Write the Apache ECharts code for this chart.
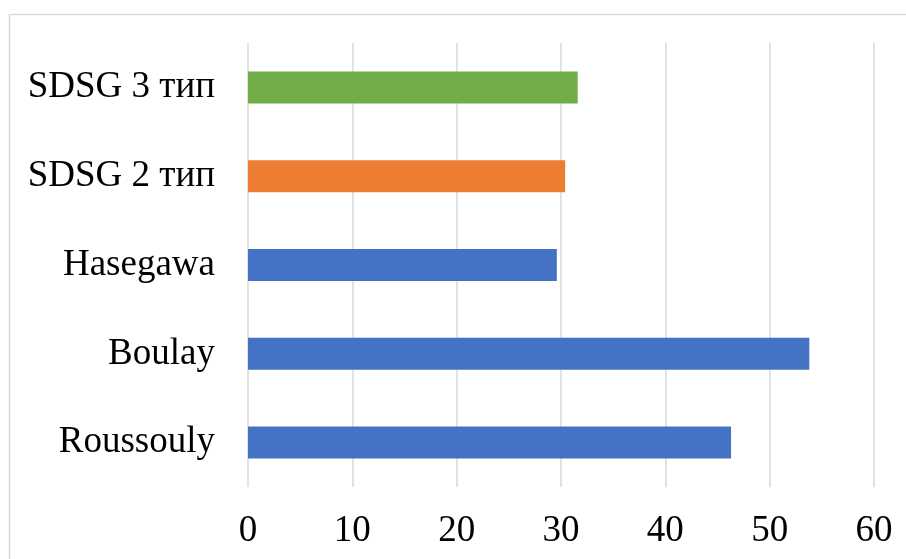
<!DOCTYPE html>
<html>
<head>
<meta charset="utf-8">
<script src="https://cdn.jsdelivr.net/npm/echarts@6/dist/echarts.min.js"></script>
<style>
  html, body { margin: 0; padding: 0; background: #ffffff; }
  #chart { width: 906px; height: 559px; }
</style>
</head>
<body>
<div id="chart"></div>
<script>
// Categories from bottom to top
const categories = ['Roussouly', 'Boulay', 'Hasegawa', 'SDSG 2 тип', 'SDSG 3 тип'];
const values = [46.3, 53.8, 29.6, 30.4, 31.6];
const barColors = ['#4472C4', '#4472C4', '#4472C4', '#ED7D31', '#70AD47'];
const xTicks = [0, 10, 20, 30, 40, 50, 60];

const fontFamily = '"Liberation Serif", "Times New Roman", serif';

const chart = echarts.init(document.getElementById('chart'), null, { renderer: 'canvas' });

chart.setOption({
  backgroundColor: '#ffffff',
  animation: false,
  graphic: [{
    type: 'rect',
    shape: { x: 9.5, y: 14.5, width: 1000, height: 1000 },
    style: { fill: 'none', stroke: '#d9d9d9', lineWidth: 1.5 },
    silent: true
  }],
  grid: { left: 248, right: 32, top: 43, bottom: 72, containLabel: false },
  xAxis: {
    type: 'value',
    min: xTicks[0],
    max: xTicks[xTicks.length - 1],
    interval: 10,
    axisLine: { show: false },
    axisTick: { show: false },
    splitLine: { show: true, lineStyle: { color: '#d9d9d9', width: 1.5 } },
    axisLabel: { color: '#000000', fontSize: 37, fontFamily: fontFamily, margin: 26 }
  },
  yAxis: {
    type: 'category',
    data: categories,
    axisLine: { show: false },
    axisTick: { show: false },
    splitLine: { show: false },
    axisLabel: { color: '#000000', fontSize: 37, fontFamily: fontFamily, margin: 33 }
  },
  series: [{
    type: 'bar',
    barCategoryGap: '64%',
    data: values.map((v, i) => ({ value: v, itemStyle: { color: barColors[i] } }))
  }]
});
</script>
</body>
</html>
